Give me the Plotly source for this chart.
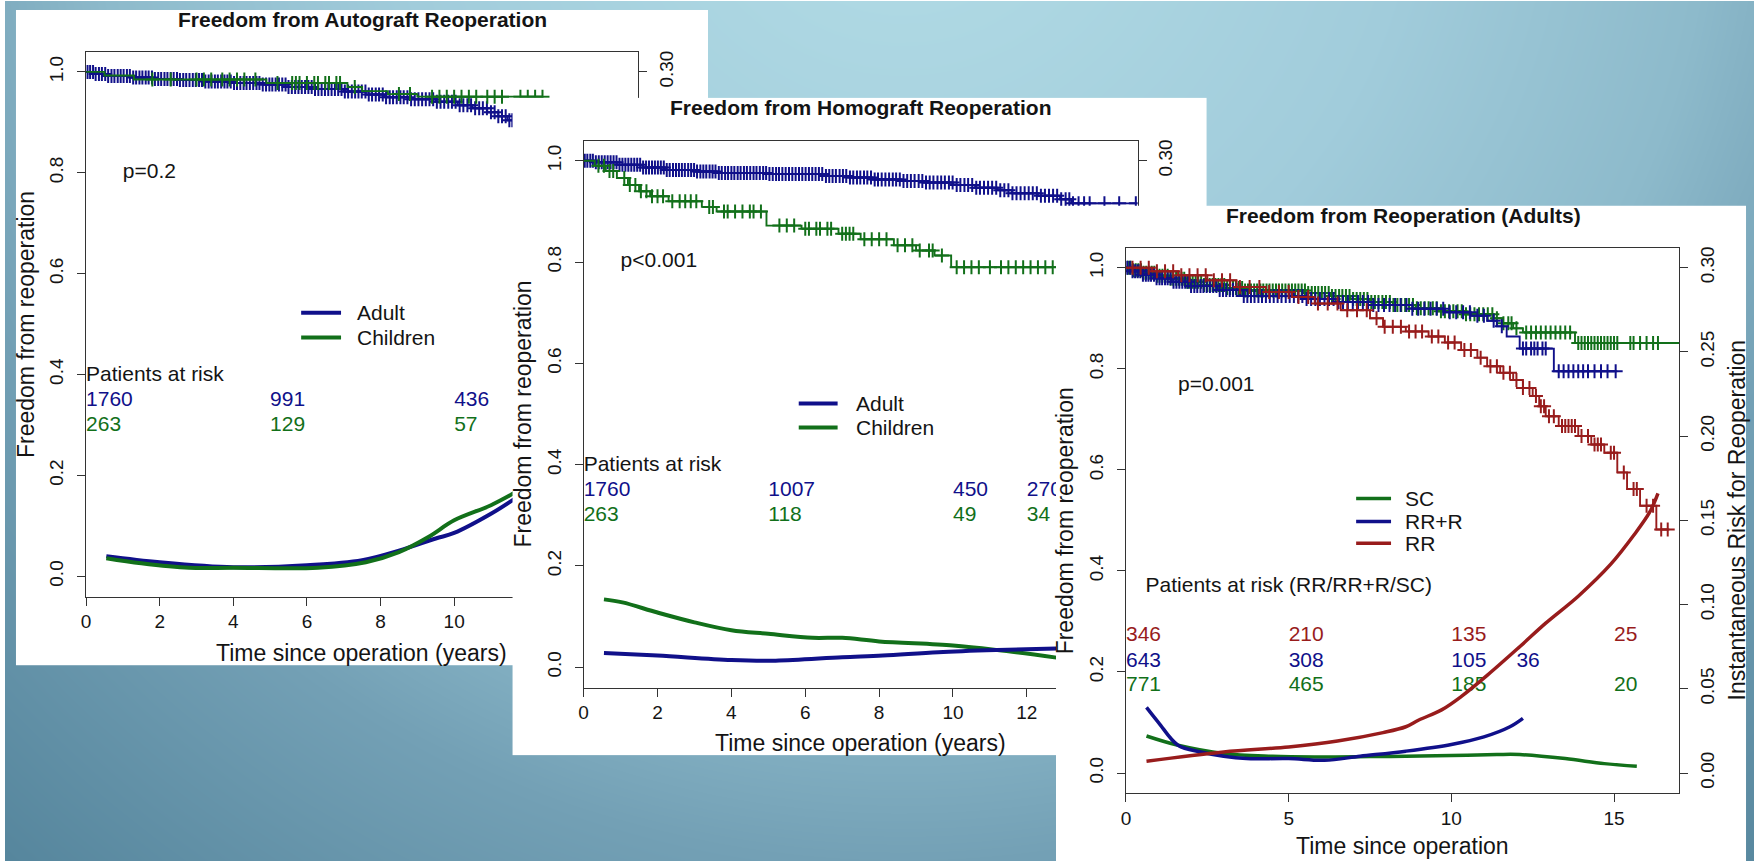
import numpy as np
import plotly.graph_objects as go

W, H = 1754, 861
FONT = "Liberation Sans, Arial, Helvetica, sans-serif"
BLUE, GREEN, RED = "#10108a", "#12701a", "#981c1c"
INK = "#141414"
AXC = "#333333"

# ---------------- Panel 1: Autograft ----------------
p1_adult_t = [0, 0.2, 0.6, 1.2, 1.8, 2.5, 3.2, 4.0, 4.8, 5.5, 6.2, 7.0, 7.6, 8.1, 8.8, 9.5, 10.1, 10.5, 10.9, 11.2, 11.45, 11.7]
p1_adult_s = [1.0, 0.996, 0.992, 0.989, 0.986, 0.984, 0.981, 0.978, 0.975, 0.970, 0.966, 0.961, 0.955, 0.950, 0.946, 0.941, 0.934, 0.928, 0.920, 0.912, 0.904, 0.895]
p1_adult_end = 12.2
p1_adult_cens = [0.04, 0.11, 0.19, 0.26, 0.35, 0.43, 0.52, 0.6, 0.69, 0.77, 0.86, 0.94, 1.02, 1.11, 1.19, 1.28, 1.36, 1.45, 1.53, 1.62, 1.7, 1.79, 1.87, 1.96, 2.04, 2.13, 2.21, 2.3, 2.38, 2.47, 2.55, 2.64, 2.72, 2.81, 2.9, 2.98, 3.07, 3.15, 3.24, 3.33, 3.41, 3.5, 3.58, 3.67, 3.76, 3.84, 3.93, 4.02, 4.1, 4.19, 4.28, 4.36, 4.45, 4.54, 4.63, 4.71, 4.8, 4.89, 4.98, 5.06, 5.15, 5.24, 5.33, 5.42, 5.5, 5.59, 5.68, 5.77, 5.86, 5.95, 6.04, 6.13, 6.22, 6.31, 6.4, 6.49, 6.58, 6.67, 6.76, 6.85, 6.94, 7.03, 7.12, 7.22, 7.31, 7.4, 7.49, 7.59, 7.68, 7.77, 7.87, 7.96, 8.06, 8.15, 8.25, 8.34, 8.44, 8.54, 8.63, 8.73, 8.83, 8.93, 9.03, 9.13, 9.23, 9.33, 9.43, 9.53, 9.63, 9.73, 9.84, 9.94, 10.04, 10.15, 10.25, 10.36, 10.46, 10.57, 10.68, 10.78, 10.89, 11.0, 11.1, 11.2, 11.3, 11.4, 11.5, 11.58]
p1_child_t = [0, 0.5, 1.3, 4.9, 7.1, 7.5, 8.2, 9.0]
p1_child_s = [1.0, 0.993, 0.985, 0.978, 0.970, 0.962, 0.956, 0.951]
p1_child_end = 12.4
p1_child_cens = [1.8, 2.3, 3.0, 3.2, 3.4, 3.7, 3.9, 4.1, 4.3, 4.6, 5.2, 5.6, 5.7, 5.8, 6.0, 6.2, 6.3, 6.5, 6.6, 6.8, 6.9, 7.3, 8.5, 8.8, 9.4, 9.6, 9.8, 10.0, 10.2, 10.4, 10.6, 10.9, 11.1, 11.3, 11.8, 12.0, 12.2, 12.4]
p1_haz_adult_t = [0.55, 2, 4, 6, 7.5, 8.5, 9.5, 10, 11, 11.65]
p1_haz_adult = [0.012, 0.0084, 0.0054, 0.0066, 0.0096, 0.0153, 0.0225, 0.0258, 0.0372, 0.0462]
p1_haz_child_t = [0.55, 1.5, 2.8, 4, 6.3, 7.6, 8.5, 9.3, 10, 11, 11.65]
p1_haz_child = [0.0108, 0.0078, 0.0051, 0.0051, 0.0051, 0.0084, 0.0144, 0.0234, 0.0333, 0.0423, 0.0498]
p1_risk_t = [0, 5, 10]
p1_risk_adult = ["1760", "991", "436"]
p1_risk_child = ["263", "129", "57"]

# ---------------- Panel 2: Homograft ----------------
p2_adult_t = [0, 0.3, 0.9, 1.6, 2.2, 3.0, 3.6, 5.0, 6.5, 7.2, 7.8, 8.6, 9.2, 10.0, 10.6, 11.2, 11.6, 12.3, 12.9, 13.2]
p2_adult_s = [1.0, 0.997, 0.992, 0.987, 0.982, 0.979, 0.976, 0.974, 0.970, 0.967, 0.963, 0.960, 0.957, 0.952, 0.947, 0.942, 0.936, 0.931, 0.924, 0.916]
p2_adult_end = 14.95
p2_adult_cens = [0.03, 0.1, 0.18, 0.25, 0.33, 0.41, 0.49, 0.57, 0.65, 0.73, 0.81, 0.89, 0.97, 1.05, 1.13, 1.21, 1.29, 1.37, 1.45, 1.53, 1.61, 1.69, 1.77, 1.85, 1.93, 2.01, 2.09, 2.17, 2.25, 2.33, 2.42, 2.5, 2.58, 2.66, 2.74, 2.83, 2.91, 2.99, 3.07, 3.16, 3.24, 3.32, 3.41, 3.49, 3.57, 3.66, 3.74, 3.83, 3.91, 4.0, 4.08, 4.17, 4.25, 4.34, 4.42, 4.51, 4.6, 4.68, 4.77, 4.86, 4.94, 5.03, 5.12, 5.21, 5.29, 5.38, 5.47, 5.56, 5.65, 5.74, 5.83, 5.92, 6.01, 6.1, 6.19, 6.28, 6.37, 6.46, 6.56, 6.65, 6.74, 6.83, 6.93, 7.02, 7.11, 7.21, 7.3, 7.4, 7.49, 7.59, 7.68, 7.78, 7.88, 7.97, 8.07, 8.17, 8.27, 8.37, 8.46, 8.56, 8.66, 8.76, 8.86, 8.96, 9.07, 9.17, 9.27, 9.37, 9.47, 9.58, 9.68, 9.78, 9.89, 9.99, 10.1, 10.2, 10.31, 10.41, 10.52, 10.63, 10.73, 10.84, 10.95, 11.06, 11.17, 11.28, 11.39, 11.5, 11.61, 11.72, 11.83, 11.94, 12.05, 12.16, 12.27, 12.38, 12.49, 12.6, 12.71, 12.82, 12.93, 13.05, 13.15, 13.25, 13.4, 13.55, 13.7, 14.1, 14.5, 14.95]
p2_child_t = [0, 0.3, 0.6, 0.9, 1.2, 1.5, 1.8, 2.3, 3.2, 3.6, 4.95, 5.9, 6.9, 7.5, 8.4, 9.0, 9.5, 9.95]
p2_child_s = [1.0, 0.99, 0.98, 0.966, 0.952, 0.94, 0.93, 0.92, 0.909, 0.9, 0.872, 0.866, 0.856, 0.845, 0.833, 0.823, 0.813, 0.79]
p2_child_end = 13.5
p2_child_cens = [0.4, 0.55, 0.7, 0.8, 1.1, 1.25, 1.4, 1.55, 1.7, 1.85, 2.0, 2.15, 2.4, 2.6, 2.75, 2.9, 3.05, 3.4, 3.5, 3.8, 3.9, 4.1, 4.3, 4.5, 4.6, 4.8, 5.3, 5.5, 5.7, 6.0, 6.1, 6.3, 6.4, 6.6, 6.7, 7.0, 7.1, 7.2, 7.3, 7.6, 7.8, 8.0, 8.2, 8.5, 8.7, 8.9, 9.1, 9.35, 9.45, 9.7, 10.1, 10.3, 10.5, 10.7, 11.0, 11.3, 11.5, 11.7, 11.9, 12.1, 12.3, 12.5, 12.7]
p2_haz_child_t = [0.55, 1.05, 2, 3, 4, 5, 6.2, 7, 8, 10, 11.2, 12.8]
p2_haz_child = [0.0402, 0.0384, 0.0324, 0.0266, 0.0219, 0.0198, 0.0174, 0.0174, 0.0153, 0.0129, 0.0102, 0.0057]
p2_haz_adult_t = [0.55, 2, 4, 5.2, 7, 8.1, 9.6, 11.2, 12.8]
p2_haz_adult = [0.0084, 0.0069, 0.0043, 0.0039, 0.0059, 0.0069, 0.0089, 0.0102, 0.0111]
p2_risk_t = [0, 5, 10, 12]
p2_risk_adult = ["1760", "1007", "450", "270"]
p2_risk_child = ["263", "118", "49", "34"]

# ---------------- Panel 3: Adults by technique ----------------
p3_sc_t = [0, 0.2, 0.5, 0.9, 1.3, 1.8, 2.4, 3.1, 3.6, 5.6, 6.3, 6.9, 7.5, 8.2, 8.9, 9.6, 10.4, 11.3, 11.55, 11.9, 12.2, 13.8]
p3_sc_s = [1.0, 0.995, 0.99, 0.984, 0.978, 0.972, 0.966, 0.96, 0.955, 0.95, 0.944, 0.938, 0.932, 0.926, 0.92, 0.914, 0.908, 0.9, 0.89, 0.88, 0.872, 0.851]
p3_sc_end = 17.0
p3_sc_cens = [0.06, 0.14, 0.22, 0.3, 0.38, 0.46, 0.54, 0.62, 0.7, 0.79, 0.87, 0.95, 1.03, 1.12, 1.2, 1.28, 1.37, 1.45, 1.54, 1.62, 1.71, 1.79, 1.88, 1.96, 2.05, 2.14, 2.22, 2.31, 2.4, 2.49, 2.57, 2.66, 2.75, 2.84, 2.93, 3.02, 3.11, 3.2, 3.29, 3.38, 3.47, 3.57, 3.66, 3.75, 3.84, 3.94, 4.03, 4.13, 4.22, 4.32, 4.41, 4.51, 4.61, 4.7, 4.8, 4.9, 5.0, 5.1, 5.2, 5.3, 5.4, 5.5, 5.6, 5.71, 5.81, 5.91, 6.02, 6.12, 6.23, 6.33, 6.44, 6.55, 6.65, 6.76, 6.87, 6.98, 7.09, 7.2, 7.31, 7.42, 7.54, 7.65, 7.76, 7.88, 7.99, 8.11, 8.22, 8.34, 8.46, 8.58, 8.7, 8.82, 8.94, 9.06, 9.18, 9.3, 9.43, 9.55, 9.68, 9.8, 9.93, 10.06, 10.19, 10.32, 10.45, 10.58, 10.71, 10.85, 10.98, 11.12, 11.26, 11.4, 11.6, 11.75, 11.85, 12.0, 12.3, 12.45, 12.6, 12.75, 12.9, 13.05, 13.2, 13.35, 13.5, 13.65, 13.9, 14.0, 14.1, 14.2, 14.3, 14.4, 14.5, 14.6, 14.7, 14.8, 14.9, 15.0, 15.1, 15.5, 15.6, 15.8, 16.0, 16.2, 16.35]
p3_rrr_t = [0, 0.2, 0.5, 0.9, 1.4, 2.0, 2.8, 3.6, 5.5, 6.5, 7.6, 8.8, 9.8, 10.6, 11.1, 11.4, 11.7, 12.1, 13.15]
p3_rrr_s = [1.0, 0.993, 0.986, 0.979, 0.972, 0.964, 0.956, 0.944, 0.938, 0.932, 0.926, 0.919, 0.912, 0.905, 0.895, 0.884, 0.864, 0.84, 0.795]
p3_rrr_end = 15.1
p3_rrr_cens = [0.04, 0.12, 0.2, 0.28, 0.36, 0.44, 0.52, 0.61, 0.69, 0.77, 0.86, 0.94, 1.03, 1.11, 1.2, 1.28, 1.37, 1.46, 1.55, 1.64, 1.73, 1.82, 1.91, 2.0, 2.1, 2.19, 2.29, 2.38, 2.48, 2.58, 2.68, 2.78, 2.88, 2.98, 3.08, 3.19, 3.29, 3.4, 3.51, 3.62, 3.73, 3.84, 3.95, 4.07, 4.18, 4.3, 4.42, 4.54, 4.66, 4.78, 4.91, 5.03, 5.16, 5.29, 5.42, 5.55, 5.69, 5.82, 5.96, 6.1, 6.24, 6.38, 6.53, 6.67, 6.82, 6.97, 7.13, 7.28, 7.44, 7.6, 7.76, 7.93, 8.1, 8.27, 8.44, 8.62, 8.8, 8.98, 9.17, 9.36, 9.55, 9.75, 9.95, 10.15, 10.36, 10.57, 10.8, 11.0, 11.3, 11.55, 12.2, 12.3, 12.45, 12.55, 12.65, 12.8, 12.9, 13.3, 13.45, 13.6, 13.75, 13.9, 14.05, 14.2, 14.4, 14.6, 14.8, 15.05]
p3_rr_t = [0, 0.8, 1.6, 2.5, 3.4, 4.3, 5.1, 5.8, 6.6, 7.5, 7.9, 8.6, 9.3, 9.8, 10.3, 10.8, 11.1, 11.5, 11.9, 12.2, 12.5, 12.7, 12.9, 13.3, 13.9, 14.3, 14.7, 15.1, 15.4, 15.8, 16.3]
p3_rr_s = [1.0, 0.993, 0.985, 0.975, 0.962, 0.952, 0.942, 0.929, 0.916, 0.9, 0.883, 0.874, 0.864, 0.852, 0.837, 0.822, 0.805, 0.792, 0.778, 0.762, 0.746, 0.726, 0.706, 0.687, 0.667, 0.65, 0.634, 0.595, 0.562, 0.529, 0.482]
p3_rr_end = 16.7
p3_rr_cens = [0.2, 0.45, 0.7, 0.95, 1.2, 1.45, 1.7, 1.95, 2.2, 2.45, 2.7, 2.95, 3.2, 3.5, 3.8, 4.1, 4.4, 4.7, 5.0, 5.3, 5.6, 5.9, 6.2, 6.5, 6.8, 7.1, 7.4, 7.7, 7.95, 8.2, 8.45, 8.7, 8.9, 9.1, 9.4, 9.6, 9.9, 10.1, 10.4, 10.6, 10.9, 11.2, 11.4, 11.6, 11.8, 12.0, 12.2, 12.4, 12.6, 12.75, 12.85, 13.0, 13.15, 13.4, 13.5, 13.6, 13.7, 13.8, 14.0, 14.2, 14.4, 14.5, 14.6, 14.9, 15.0, 15.3, 15.6, 15.7, 16.0, 16.2, 16.45, 16.65]
p3_haz_rrr_t = [0.63, 1.0, 1.6, 2.3, 3.0, 3.7, 5.0, 6.1, 7.2, 8.6, 10.0, 11.0, 11.8, 12.2]
p3_haz_rrr = [0.039, 0.030, 0.0165, 0.0125, 0.010, 0.0086, 0.0086, 0.0076, 0.010, 0.013, 0.017, 0.0215, 0.0275, 0.0325]
p3_haz_sc_t = [0.63, 1.6, 3.0, 4.5, 5.8, 7.5, 8.6, 10.0, 11.4, 12.1, 13.5, 14.7, 15.7]
p3_haz_sc = [0.022, 0.0165, 0.0116, 0.0100, 0.0096, 0.0098, 0.010, 0.0104, 0.011, 0.011, 0.0086, 0.0056, 0.004]
p3_haz_rr_t = [0.63, 3.0, 5.0, 6.5, 7.9, 8.6, 9.0, 9.7, 10.3, 11.1, 12.1, 12.9, 13.9, 14.9, 15.6, 16.1, 16.35]
p3_haz_rr = [0.007, 0.0125, 0.0155, 0.019, 0.024, 0.0275, 0.0315, 0.0375, 0.0454, 0.058, 0.075, 0.089, 0.105, 0.124, 0.141, 0.155, 0.166]
p3_risk_t = [0, 5, 10, 15]
p3_risk_rrr_t = [0, 5, 10, 12]
p3_risk_rr = ["346", "210", "135", "25"]
p3_risk_rrr = ["643", "308", "105", "36"]
p3_risk_sc = ["771", "465", "185", "20"]

# ---------------- helpers ----------------
def dom_x(a, b):
    return [a / W, b / W]


def dom_y(top, bot):
    return [1 - bot / H, 1 - top / H]


fig = go.Figure()

# background gradient (decorative slide background)
gx = np.linspace(0, W, 60)
gy = np.linspace(0, H, 30)
GX, GY = np.meshgrid(gx, gy)
GZ = np.sqrt((GX - 900) ** 2 + (GY + 150) ** 2)
fig.add_trace(go.Heatmap(x=gx, y=gy, z=GZ, zmin=150, zmax=1350, zsmooth="best", showscale=False,
                         hoverinfo="skip",
                         colorscale=[[0, "#aed8e3"], [0.3, "#a1ccdb"], [0.55, "#8dbacb"],
                                     [0.72, "#73a0b5"], [1, "#56869d"]],
                         xaxis="x", yaxis="y"))


def blank(xa, ya):
    fig.add_trace(go.Scatter(x=[None], y=[None], mode="lines", xaxis=xa, yaxis=ya,
                             showlegend=False, hoverinfo="skip"))


def km(t, s, end, cens, color, xa, ya):
    fig.add_trace(go.Scatter(x=list(t) + [end], y=list(s) + [s[-1]], mode="lines",
                             line=dict(color=color, width=1.9, shape="hv"),
                             xaxis=xa, yaxis=ya, showlegend=False, hoverinfo="skip"))
    idx = np.searchsorted(np.asarray(t), np.asarray(cens), side="right") - 1
    cy = np.asarray(s)[idx]
    fig.add_trace(go.Scatter(x=cens, y=cy, mode="markers",
                             marker=dict(symbol="cross-thin", size=10, color=color,
                                         line=dict(color=color, width=2.0)),
                             xaxis=xa, yaxis=ya, showlegend=False, hoverinfo="skip"))


def haz(t, v, color, xa, ya, width=4):
    fig.add_trace(go.Scatter(x=t, y=v, mode="lines", line=dict(color=color, width=width, shape="spline"),
                             xaxis=xa, yaxis=ya, showlegend=False, hoverinfo="skip"))


def txt(x, y, labels, color, xa, ya, size=21):
    fig.add_trace(go.Scatter(x=x, y=[y] * len(x), mode="text", text=labels, textposition="middle right",
                             textfont=dict(color=color, size=size, family=FONT), cliponaxis=False,
                             xaxis=xa, yaxis=ya, showlegend=False, hoverinfo="skip"))


# Panel 1
blank("x2", "y2")
km(p1_adult_t, p1_adult_s, p1_adult_end, p1_adult_cens, BLUE, "x3", "y3")
km(p1_child_t, p1_child_s, p1_child_end, p1_child_cens, GREEN, "x3", "y3")
txt([0], 0.398, ["Patients at risk"], INK, "x3", "y3")
txt(p1_risk_t, 0.348, p1_risk_adult, BLUE, "x3", "y3")
txt(p1_risk_t, 0.299, p1_risk_child, GREEN, "x3", "y3")
txt([1.0], 0.8, ["p=0.2"], INK, "x3", "y3")
haz(p1_haz_adult_t, p1_haz_adult, BLUE, "x3", "y4")
haz(p1_haz_child_t, p1_haz_child, GREEN, "x3", "y4")

# Panel 2
blank("x4", "y5")
km(p2_adult_t, p2_adult_s, p2_adult_end, p2_adult_cens, BLUE, "x5", "y6")
km(p2_child_t, p2_child_s, p2_child_end, p2_child_cens, GREEN, "x5", "y6")
txt([0], 0.398, ["Patients at risk"], INK, "x5", "y6")
txt(p2_risk_t, 0.348, p2_risk_adult, BLUE, "x5", "y6")
txt(p2_risk_t, 0.299, p2_risk_child, GREEN, "x5", "y6")
txt([1.0], 0.8, ["p<0.001"], INK, "x5", "y6")
haz(p2_haz_child_t, p2_haz_child, GREEN, "x5", "y7")
haz(p2_haz_adult_t, p2_haz_adult, BLUE, "x5", "y7")

# Panel 3
blank("x6", "y8")
km(p3_sc_t, p3_sc_s, p3_sc_end, p3_sc_cens, GREEN, "x7", "y9")
km(p3_rrr_t, p3_rrr_s, p3_rrr_end, p3_rrr_cens, BLUE, "x7", "y9")
km(p3_rr_t, p3_rr_s, p3_rr_end, p3_rr_cens, RED, "x7", "y9")
txt([0.6], 0.368, ["Patients at risk (RR/RR+R/SC)"], INK, "x7", "y9")
txt(p3_risk_t, 0.271, p3_risk_rr, RED, "x7", "y9")
txt(p3_risk_rrr_t, 0.221, p3_risk_rrr, BLUE, "x7", "y9")
txt(p3_risk_t, 0.172, p3_risk_sc, GREEN, "x7", "y9")
txt([1.6], 0.767, ["p=0.001"], INK, "x7", "y9")
haz(p3_haz_sc_t, p3_haz_sc, GREEN, "x7", "y10", 3.5)
haz(p3_haz_rrr_t, p3_haz_rrr, BLUE, "x7", "y10", 3.5)
haz(p3_haz_rr_t, p3_haz_rr, RED, "x7", "y10", 3.5)

# ---------------- axes ----------------
hidden = dict(visible=False, showgrid=False, zeroline=False, fixedrange=True)
tickfont = dict(family=FONT, size=19, color=INK)


def xbox(dom, xmax, dtick, anchor):
    return dict(domain=dom, range=[0, xmax], dtick=dtick, tick0=0, anchor=anchor,
                showline=True, mirror=True, linecolor=AXC, linewidth=1,
                ticks="outside", ticklen=8, tickwidth=1, tickcolor=AXC,
                showgrid=False, zeroline=False, tickfont=tickfont, fixedrange=True)


def yleft(dom, anchor):
    return dict(domain=dom, range=[-0.04, 1.04], tickvals=[0, 0.2, 0.4, 0.6, 0.8, 1.0],
                tickformat=".1f", tickangle=-90, anchor=anchor,
                showline=True, mirror=True, linecolor=AXC, linewidth=1,
                ticks="outside", ticklen=8, tickwidth=1, tickcolor=AXC, ticklabelstandoff=6,
                showgrid=False, zeroline=False, tickfont=tickfont, fixedrange=True)


def yright(over, anchor):
    return dict(range=[-0.012, 0.312], tickvals=[0, 0.05, 0.1, 0.15, 0.2, 0.25, 0.3],
                tickformat=".2f", tickangle=-90, overlaying=over, side="right", anchor=anchor,
                showline=True, linecolor=AXC, linewidth=1,
                ticks="outside", ticklen=8, tickwidth=1, tickcolor=AXC, ticklabelstandoff=3,
                showgrid=False, zeroline=False, tickfont=tickfont, fixedrange=True)


layout = dict(
    width=W, height=H, margin=dict(l=0, r=0, t=0, b=0, pad=0),
    paper_bgcolor="white", plot_bgcolor="white", showlegend=False, hovermode=False,
    font=dict(family=FONT, color=INK),
    xaxis=dict(domain=[0, 1], range=[0, W], **hidden),
    yaxis=dict(domain=[0, 1], range=[H, 0], **hidden),
    xaxis2=dict(domain=dom_x(11, 705), range=[0, 1], anchor="y2", **hidden),
    yaxis2=dict(domain=dom_y(9, 665), range=[0, 1], anchor="x2", **hidden),
    xaxis3=xbox(dom_x(81.3, 635.0), 15, 2, "y3"),
    yaxis3=yleft(dom_y(50.8, 596.2), "x3"),
    yaxis4=yright("y3", "x3"),
    xaxis4=dict(domain=dom_x(509, 1205), range=[0, 1], anchor="y5", **hidden),
    yaxis5=dict(domain=dom_y(97, 755), range=[0, 1], anchor="x4", **hidden),
    xaxis5=xbox(dom_x(580.3, 1135.9), 15, 2, "y6"),
    yaxis6=yleft(dom_y(139.7, 687.3), "x5"),
    yaxis7=yright("y6", "x5"),
    xaxis6=dict(domain=dom_x(1054, 1746), range=[0, 1], anchor="y8", **hidden),
    yaxis8=dict(domain=dom_y(205, 861), range=[0, 1], anchor="x6", **hidden),
    xaxis7=xbox(dom_x(1124.2, 1678.9), 17, 5, "y9"),
    yaxis9=yleft(dom_y(246.8, 793.2), "x7"),
    yaxis10=yright("y9", "x7"),
)
fig.update_layout(**layout)

# ---------------- titles / labels / legends ----------------
anns = []


def ann(text, x, y, size, bold=False, angle=0, xanchor="center", color=INK):
    anns.append(dict(text=("<b>%s</b>" % text) if bold else text, x=x / W, y=1 - y / H,
                     xref="paper", yref="paper", xanchor=xanchor, yanchor="middle",
                     textangle=angle, showarrow=False,
                     font=dict(family=FONT, size=size, color=color)))


ann("Freedom from Autograft Reoperation", 358.5, 19, 21, bold=True)
ann("Freedom from Homograft Reoperation", 858, 107, 21, bold=True)
ann("Freedom from Reoperation (Adults)", 1402, 215, 21, bold=True)
ann("Freedom from reoperation", 21, 323.5, 23, angle=-90)
ann("Freedom from reoperation", 520, 413.5, 23, angle=-90)
ann("Freedom from reoperation", 1063, 520, 23, angle=-90)
ann("Instantaneous Risk for Reoperation", 1737, 520, 23, angle=-90)
ann("Time since operation (years)", 358, 653, 23)
ann("Time since operation (years)", 858, 743, 23)
ann("Time since operation", 1401.5, 846, 23)

shapes = []
legends = [
    (297, 337, 351, [("Adult", BLUE, 312), ("Children", GREEN, 337)], 4),
    (796, 835, 851, [("Adult", BLUE, 403), ("Children", GREEN, 427)], 4),
    (1355, 1390, 1402, [("SC", GREEN, 498), ("RR+R", BLUE, 521), ("RR", RED, 543)], 3.5),
]
for x0, x1, xt, items, lw in legends:
    for label, col, yy in items:
        shapes.append(dict(type="line", xref="paper", yref="paper", x0=x0 / W, x1=x1 / W,
                           y0=1 - yy / H, y1=1 - yy / H, line=dict(color=col, width=lw), layer="above"))
        ann(label, xt, yy, 21, xanchor="left")

fig.update_layout(annotations=anns, shapes=shapes)
fig.write_html("out.html")
